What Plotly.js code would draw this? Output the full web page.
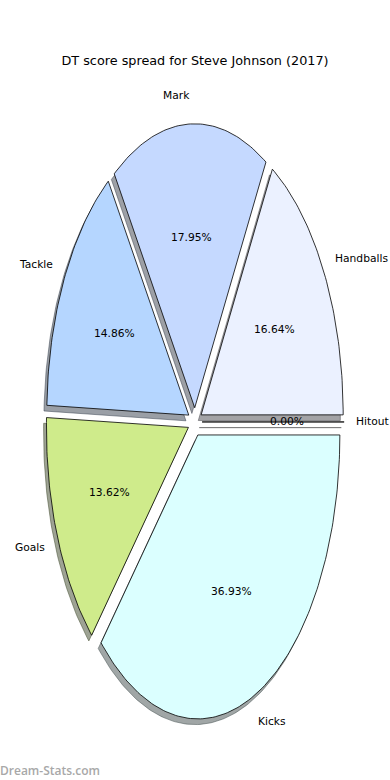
<!DOCTYPE html>
<html>
<head>
<meta charset="utf-8">
<script src="https://cdn.plot.ly/plotly-3.0.1.min.js"></script>
<style>html,body{margin:0;padding:0;background:#fff;}#chart{width:390px;height:780px;}</style>
</head>
<body>
<div id="chart"></div>
<script>
// ---- data ----
const labels = ['Handballs', 'Mark', 'Tackle', 'Goals', 'Kicks', 'Hitout'];
const values = [16.64, 17.95, 14.86, 13.62, 36.93, 0.00];
const colors = ['#EBF1FF', '#C5D9FF', '#B5D6FF', '#CFEB8B', '#DBFFFF', '#F0F0F0'];
const explode = [0.05, 0.05, 0.05, 0.05, 0.05, 0.05];
const chartTitle = 'DT score spread for Steve Johnson (2017)';
const watermark = 'Dream-Stats.com';

// ---- build wedges (matplotlib-style pie on a non-equal-aspect axes) ----
const total = values.reduce((a, b) => a + b, 0);
const shadowOff = [-0.02, -0.02];
const rad = d => d * Math.PI / 180;
function hexToRgb(h) {
  const n = parseInt(h.slice(1), 16);
  return [(n >> 16) & 255, (n >> 8) & 255, n & 255];
}

const wedgeTraces = [];
const shadowTraces = [];
const annotations = [];
let theta1 = 0;
values.forEach((v, i) => {
  const theta2 = theta1 + 360 * v / total;
  const mid = (theta1 + theta2) / 2;
  const e = explode[i];
  const cx = e * Math.cos(rad(mid));
  const cy = e * Math.sin(rad(mid));
  const xs = [cx], ys = [cy];
  const n = Math.max(2, Math.ceil(theta2 - theta1) + 1);
  for (let k = 0; k < n; k++) {
    const t = theta1 + (theta2 - theta1) * k / (n - 1);
    xs.push(cx + Math.cos(rad(t)));
    ys.push(cy + Math.sin(rad(t)));
  }
  xs.push(cx); ys.push(cy);

  const rgb = hexToRgb(colors[i]).map(c => Math.round(c * 0.3));
  const sc = 'rgba(' + rgb.join(',') + ',0.5)';
  shadowTraces.push({
    type: 'scatter', mode: 'lines', fill: 'toself',
    x: xs.map(x => x + shadowOff[0]), y: ys.map(y => y + shadowOff[1]),
    fillcolor: sc, line: {color: sc, width: 1}, hoverinfo: 'skip', showlegend: false
  });
  wedgeTraces.push({
    type: 'scatter', mode: 'lines', fill: 'toself',
    x: xs, y: ys, name: labels[i],
    fillcolor: colors[i], line: {color: '#000000', width: 0.8},
    hoverinfo: 'skip', showlegend: false
  });

  const lx = cx + 1.1 * Math.cos(rad(mid));
  const ly = cy + 1.1 * Math.sin(rad(mid));
  annotations.push({
    x: lx, y: ly, xref: 'x', yref: 'y', text: labels[i], showarrow: false,
    xanchor: lx > 0 ? 'left' : 'right', yanchor: 'middle',
    xshift: lx > 0 ? -4 : 3,
    font: {family: 'DejaVu Sans', size: 10.7, color: '#000'}
  });
  const px = cx + 0.6 * Math.cos(rad(mid));
  const py = cy + 0.6 * Math.sin(rad(mid));
  annotations.push({
    x: px, y: py, xref: 'x', yref: 'y', text: v.toFixed(2) + '%', showarrow: false,
    xanchor: 'center', yanchor: 'middle',
    font: {family: 'DejaVu Sans', size: 10.7, color: '#000'}
  });
  theta1 = theta2;
});

annotations.push({
  x: 0, y: 1 - 770 / 780, xref: 'paper', yref: 'paper', text: watermark,
  showarrow: false, xanchor: 'left', yanchor: 'middle', xshift: -2,
  font: {family: 'Open Sans', size: 12, color: '#A8A8A8', weight: 600}
});

const layout = {
  width: 390, height: 780,
  margin: {l: 0, r: 0, t: 0, b: 0},
  paper_bgcolor: '#ffffff', plot_bgcolor: '#ffffff',
  title: {
    text: chartTitle, x: 0.5, xanchor: 'center', y: 1 - 61 / 780, yanchor: 'middle',
    font: {family: 'DejaVu Sans', size: 12.8, color: '#000'}
  },
  xaxis: {range: [-1.373, 1.373], visible: false, fixedrange: true},
  yaxis: {range: [-1.261, 1.486], visible: false, fixedrange: true},
  showlegend: false,
  hovermode: false,
  annotations: annotations
};

Plotly.newPlot('chart', shadowTraces.concat(wedgeTraces), layout, {displayModeBar: false, staticPlot: true});
</script>
</body>
</html>
